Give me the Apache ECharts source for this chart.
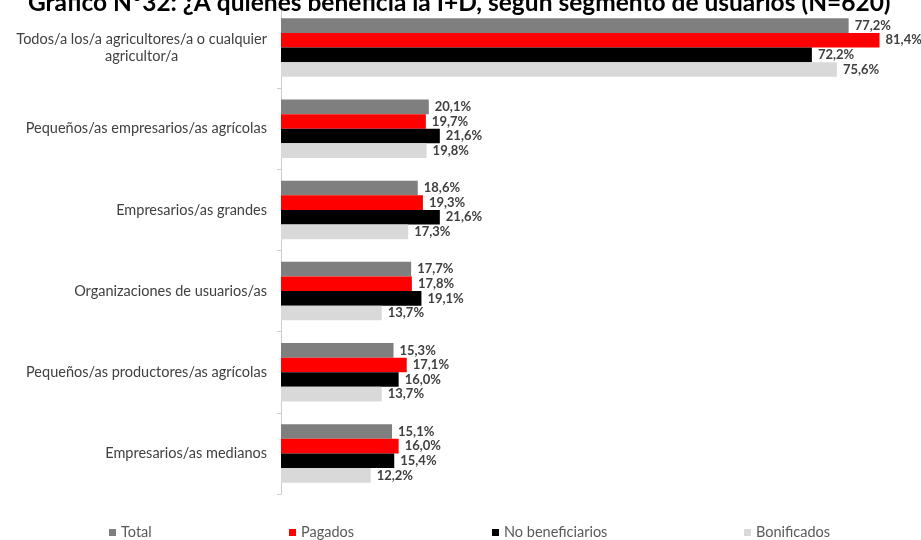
<!DOCTYPE html>
<html>
<head>
<meta charset="utf-8">
<script src="https://cdn.jsdelivr.net/npm/echarts@6/dist/echarts.min.js"></script>
<style>
html,body{margin:0;padding:0;background:#fff;}
#chart{width:921px;height:540px;}
</style>
</head>
<body>
<div id="chart"></div>
<script>
var categories=[
	'Todos/a los/a agricultores/a o cualquier\nagricultor/a',
	'Pequeños/as empresarios/as agrícolas',
	'Empresarios/as grandes',
	'Organizaciones de usuarios/as',
	'Pequeños/as productores/as agrícolas',
	'Empresarios/as medianos'
];
var seriesNames=['Total','Pagados','No beneficiarios','Bonificados'];
var total=[77.2,20.1,18.6,17.7,15.3,15.1];
var pagados=[81.4,19.7,19.3,17.8,17.1,16.0];
var noBenef=[72.2,21.6,21.6,19.1,16.0,15.4];
var bonif=[75.6,19.8,17.3,13.7,13.7,12.2];
var colors=['#7f7f7f','#ff0000','#000000','#d9d9d9'];
var legendLeft=[109,289,492,744];

var font='Lato, "Open Sans", sans-serif';

function makeSeries(i,data){
	return {
		name:seriesNames[i],
		type:'bar',
		data:data,
		barGap:0,
		barCategoryGap:'28%',
		itemStyle:{color:colors[i]},
		label:{
			show:true,
			position:'right',
			distance:6,
			fontFamily:font,
			fontSize:13,
			fontWeight:'bold',
			color:'#404040',
			formatter:function(p){return p.value.toFixed(1).replace('.',',')+'%';}
		}
	};
}

var legends=[];
for(var i=0;i<seriesNames.length;i++){
	legends.push({
		data:[seriesNames[i]],
		left:legendLeft[i],
		top:525,
		icon:'rect',
		itemWidth:7,
		itemHeight:7,
		padding:0,
		textStyle:{fontFamily:font,fontSize:14.5,color:'#595959'}
	});
}

var myChart=echarts.init(document.getElementById('chart'));
var option={
	animation:false,
	title:{
		text:'Gráfico N°32: ¿A quiénes beneficia la I+D, según segmento de usuarios (N=620)',
		left:28,
		top:-9,
		padding:0,
		textStyle:{fontFamily:font,fontSize:24.5,fontWeight:'bold',color:'#000'}
	},
	legend:legends,
	grid:{left:281,right:15,top:7,bottom:46,containLabel:false},
	xAxis:{
		type:'value',
		min:0,
		max:85,
		show:false
	},
	yAxis:{
		type:'category',
		inverse:true,
		data:categories,
		axisLine:{show:true,lineStyle:{color:'#cccccc',width:1}},
		axisTick:{show:true,length:4,lineStyle:{color:'#cccccc'}},
		axisLabel:{
			margin:14,
			fontFamily:font,
			fontSize:14.5,
			color:'#404040',
			lineHeight:17,
			formatter:function(v){
				return v.split('\n').map(function(s){return '{c|'+s+'}';}).join('\n');
			},
			rich:{c:{align:'center',fontFamily:font,fontSize:14.5,color:'#404040',lineHeight:17}}
		}
	},
	series:[
		makeSeries(0,total),
		makeSeries(1,pagados),
		makeSeries(2,noBenef),
		makeSeries(3,bonif)
	]
};
myChart.setOption(option);
</script>
</body>
</html>
